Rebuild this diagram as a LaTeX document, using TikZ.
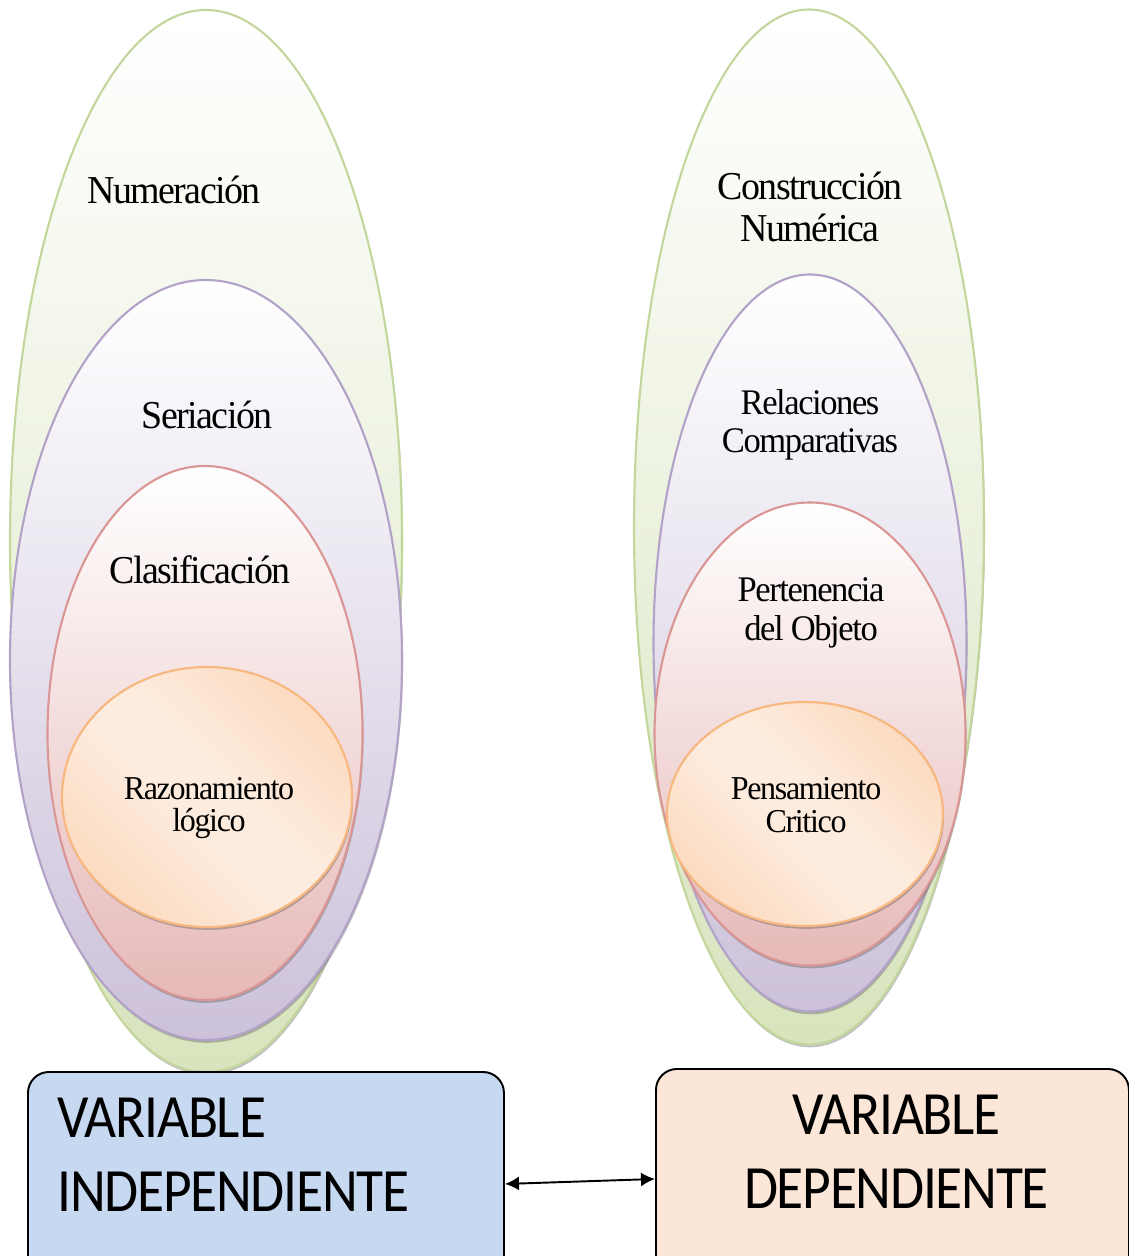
\documentclass[tikz,border=0pt]{standalone}
\usepackage{fontspec}
\setmainfont{Liberation Serif}[FakeStretch=0.96,LetterSpace=-4]
\newfontfamily\boxfont{Carlito}[FakeStretch=0.9,LetterSpace=-2]
\usetikzlibrary{positioning,shapes.geometric,shadows,arrows.meta}
\definecolor{greenline}{HTML}{C3D69B}
\definecolor{greenfill}{HTML}{D7E4BD}
\definecolor{purpline}{HTML}{B3A2C7}
\definecolor{purpfill}{HTML}{CCC1DA}
\definecolor{redline}{HTML}{D99694}
\definecolor{redfill}{HTML}{E6B9B8}
\definecolor{orline}{HTML}{F7B77F}
\definecolor{ordark}{HTML}{FAC69A}
\definecolor{orlight}{HTML}{FDEBDD}
\definecolor{indfill}{HTML}{C6D9F1}
\definecolor{depfill}{HTML}{FCE6D7}
\pgfdeclarehorizontalshading{orband}{100bp}{color(0bp)=(ordark); color(44bp)=(orlight); color(56bp)=(orlight); color(100bp)=(ordark)}
\tikzset{
	oval/.style={ellipse,draw=#1line,line width=1.2pt,top color=white,middle color=#1fill!28!white,bottom color=#1fill,
		drop shadow={shadow xshift=0.6pt,shadow yshift=-1.6pt,opacity=0.35,fill=black!70}},
	orb/.style={ellipse,draw=orline,line width=1.2pt,shading=orband,shading angle=45,
		drop shadow={shadow xshift=0.6pt,shadow yshift=-1.6pt,opacity=0.35,fill=black!70}},
	lab/.style={align=center,inner sep=0pt,font=\fontsize{22.5}{24}\selectfont},
	labm/.style={align=center,inner sep=0pt,font=\fontsize{20.5}{22}\selectfont},
	labs/.style={align=center,inner sep=0pt,font=\fontsize{19}{18.5}\selectfont},
	varbox/.style={draw=black,line width=1.1pt,rounded corners=0.42cm,minimum height=4.4cm,anchor=north west},
	vartxt/.style={inner sep=0pt,font=\boxfont\fontsize{35}{42}\selectfont}
}
\begin{document}
\begin{tikzpicture}
	\path[use as bounding box,clip](0,0) rectangle (22.58,-25.12);
	% independiente
	\node[oval=green,minimum width=7.84cm,minimum height=21.24cm](numL) at (4.12,-10.82){};
	\node[oval=purp,minimum width=7.84cm,minimum height=15.2cm](serL) at (4.12,-13.2){};
	\node[oval=red,minimum width=6.3cm,minimum height=10.68cm](claL) at (4.1,-14.66){};
	\node[orb,minimum width=5.8cm,minimum height=5.2cm](razL) at (4.14,-15.94){};
	\node[lab] at (3.48,-3.8){Numeración};
	\node[lab] at (4.14,-8.3){Seriación};
	\node[lab] at (4.0,-11.4){Clasificación};
	\node[labs] at (4.18,-16.16){Razonamiento\\lógico};
	% dependiente
	\node[oval=green,minimum width=7.0cm,minimum height=20.7cm](conR) at (16.18,-10.54){};
	\node[oval=purp,minimum width=6.26cm,minimum height=14.74cm](relR) at (16.2,-12.86){};
	\node[oval=red,minimum width=6.22cm,minimum height=9.26cm](perR) at (16.2,-14.68){};
	\node[orb,minimum width=5.52cm,minimum height=4.48cm](penR) at (16.1,-16.28){};
	\node[lab] at (16.2,-4.14){Construcción\\Numérica};
	\node[labm] at (16.2,-8.5){Relaciones\\Comparativas};
	\node[labm] at (16.22,-12.26){Pertenencia\\del Objeto};
	\node[labs] at (16.12,-16.1){Pensamiento\\Critico};
	% variables
	\node[varbox,fill=indfill,minimum width=9.52cm](indep) at (0.54,-21.42){};
	\node[varbox,fill=depfill,minimum width=9.46cm](dep) at (13.1,-21.36){};
	\node[vartxt,align=left,anchor=north west] at ([xshift=0.6cm,yshift=-0.54cm]indep.north west){VARIABLE\\INDEPENDIENTE};
	\node[vartxt,align=center,anchor=north] at ([xshift=0.08cm,yshift=-0.54cm]dep.north){VARIABLE\\DEPENDIENTE};
	\draw[{Latex[length=8pt,width=8pt]}-{Latex[length=8pt,width=8pt]},line width=1.1pt]([yshift=-0.04cm]indep.east)--(dep.west);
\end{tikzpicture}
\end{document}
